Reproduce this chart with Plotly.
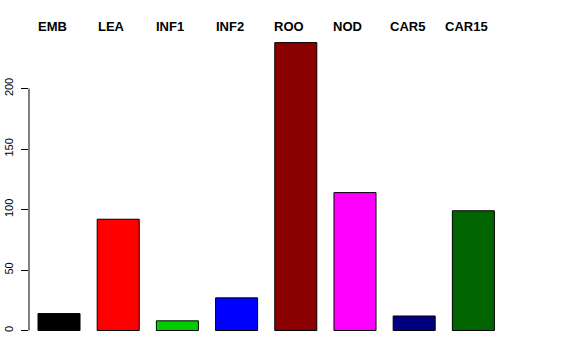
import plotly.graph_objects as go

categories = ["EMB", "LEA", "INF1", "INF2", "ROO", "NOD", "CAR5", "CAR15"]
values = [14, 92, 8, 27, 238, 114, 12, 99]
colors = ["#000000", "#FF0000", "#00CD00", "#0000FF", "#8B0000", "#FF00FF", "#000080", "#006400"]
y_ticks = [0, 50, 100, 150, 200]

x_idx = list(range(len(categories)))

fig = go.Figure()
fig.add_trace(go.Bar(
    x=x_idx, y=values,
    marker=dict(color=colors, line=dict(color="#000000", width=1)),
    width=0.71,
    hoverinfo="skip",
))

for i, lab in zip(x_idx, categories):
    fig.add_annotation(
        x=i, y=1, xref="x", yref="paper", text="<b>%s</b>" % lab,
        showarrow=False, yanchor="bottom", xanchor="center", xshift=-7, yshift=-5,
        font=dict(family="Liberation Sans, Arial, sans-serif", size=13, color="#000000"),
    )

# R-style y axis line spanning only the tick range
fig.add_shape(type="line", xref="paper", yref="y", x0=0, x1=0,
              y0=min(y_ticks), y1=max(y_ticks), line=dict(color="#000000", width=1))

fig.update_layout(
    width=576, height=360,
    margin=dict(l=29, r=60, t=31, b=18, autoexpand=False),
    paper_bgcolor="#FFFFFF", plot_bgcolor="#FFFFFF",
    showlegend=False,
    font=dict(family="Liberation Sans, Arial, sans-serif", size=11, color="#000000"),
    xaxis=dict(range=[-0.507, 7.72], showticklabels=False, showgrid=False,
               zeroline=False, showline=False, ticks="", automargin=False),
    yaxis=dict(range=[-9.5, 247.6], tickvals=y_ticks, ticktext=[str(v) for v in y_ticks],
               tickangle=-90, ticks="outside", ticklen=7, tickcolor="#000000",
               showgrid=False, zeroline=False, showline=False, automargin=False,
               ticklabelstandoff=4,
               tickfont=dict(size=11)),
)

fig.write_html("out.html")
